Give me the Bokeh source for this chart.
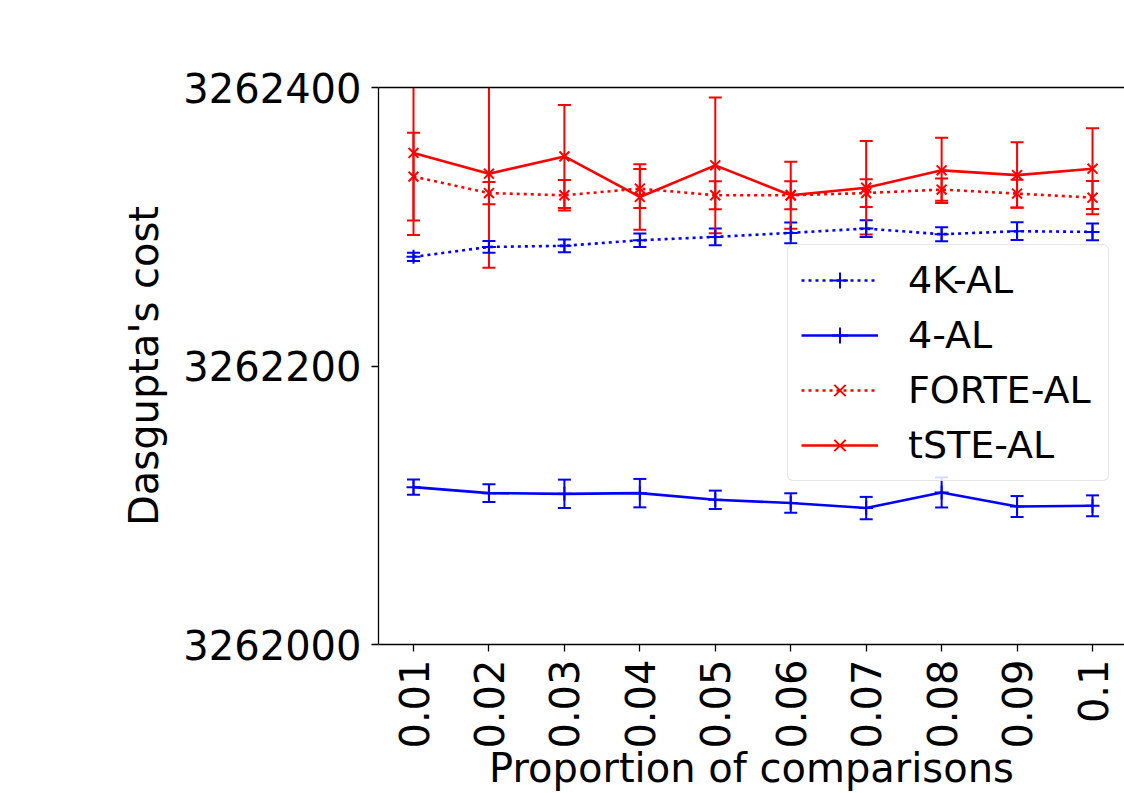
import math
from bokeh.plotting import figure
from bokeh.models import (ColumnDataSource, Whisker, TeeHead, FixedTicker, Legend,
                          LegendItem, LinearAxis, Range1d)
from bokeh.embed import file_html
from bokeh.resources import INLINE

# ---- data ----
proportions = [0.01, 0.02, 0.03, 0.04, 0.05, 0.06, 0.07, 0.08, 0.09, 0.1]
tick_labels = ["0.01", "0.02", "0.03", "0.04", "0.05", "0.06", "0.07", "0.08", "0.09", "0.1"]
base = 3262000

k4_al_mean = [278.4, 285.5, 286.3, 290.3, 292.7, 295.6, 298.7, 294.6, 296.8, 296.3]
k4_al_err = [3.0, 4.2, 4.6, 4.8, 6.0, 7.4, 6.0, 5.0, 6.4, 6.0]

al4_mean = [113.0, 108.7, 108.2, 108.7, 103.9, 101.6, 98.0, 109.2, 99.1, 99.6]
al4_err = [5.5, 6.3, 10.2, 10.2, 6.6, 7.0, 8.0, 10.8, 7.5, 7.5]

forte_mean = [336.0, 324.2, 322.6, 327.4, 322.6, 322.6, 324.2, 326.7, 323.8, 320.9]
forte_err = [31.5, 8.0, 11.0, 14.0, 10.0, 10.0, 10.0, 8.0, 10.0, 12.0]

tste_mean = [353.0, 338.1, 350.5, 321.4, 344.1, 322.6, 328.0, 340.5, 337.1, 341.7]
tste_err = [59.0, 67.6, 37.0, 23.5, 48.7, 24.0, 33.5, 23.5, 23.5, 29.0]

y_ticks = [3262000, 3262200, 3262400]

x_title = "Proportion of comparisons"
y_title = "Dasgupta's cost"

FONT = "DejaVu Sans"

p = figure(width=1124, height=793, output_backend="svg", toolbar_location=None,
           x_range=Range1d(0.00536, 0.10424), y_range=Range1d(3262000, 3262400),
           min_border_left=378, min_border_top=87, min_border_right=0, min_border_bottom=148)
p.outline_line_color = None
p.grid.visible = False
p.background_fill_color = "white"
p.border_fill_color = "white"

def src(mean, err):
    m = [base + v for v in mean]
    return ColumnDataSource(dict(x=proportions, y=m,
                                 lo=[a - e for a, e in zip(m, err)],
                                 hi=[a + e for a, e in zip(m, err)]))

series = [
    ("4K-AL", k4_al_mean, k4_al_err, "blue", "3 4", "cross"),
    ("4-AL", al4_mean, al4_err, "blue", "solid", "cross"),
    ("FORTE-AL", forte_mean, forte_err, "red", "3 4", "x"),
    ("tSTE-AL", tste_mean, tste_err, "red", "solid", "x"),
]

items = []
for name, mean, err, color, dash, marker in series:
    s = src(mean, err)
    w = Whisker(source=s, base="x", lower="lo", upper="hi", line_color=color, line_width=2,
                upper_head=TeeHead(size=13, line_color=color, line_width=2),
                lower_head=TeeHead(size=13, line_color=color, line_width=2))
    p.add_layout(w)
    ln = p.line("x", "y", source=s, line_color=color, line_width=2.6, line_dash=dash)
    sc = p.scatter("x", "y", source=s, marker=marker, size=14, line_color=color,
                   line_width=2, fill_color=None)
    items.append(LegendItem(label=name, renderers=[ln, sc]))

# axes styling
for ax in [p.xaxis[0], p.yaxis[0]]:
    ax.axis_line_color = "black"
    ax.axis_line_width = 1.3
    ax.major_tick_line_color = "black"
    ax.major_tick_line_width = 1.3
    ax.major_tick_out = 7
    ax.major_tick_in = 0
    ax.minor_tick_line_color = None
    ax.major_label_text_font = FONT
    ax.major_label_text_font_size = "40px"
    ax.major_label_text_color = "black"
    ax.axis_label_text_font = FONT
    ax.axis_label_text_font_size = "40px"
    ax.axis_label_text_font_style = "normal"
    ax.axis_label_text_color = "black"

p.yaxis.ticker = FixedTicker(ticks=y_ticks)
p.yaxis.major_label_overrides = {t: str(t) for t in y_ticks}
p.yaxis.major_label_standoff = 10
p.yaxis.axis_label = y_title
p.yaxis.axis_label_standoff = 13

p.xaxis.ticker = FixedTicker(ticks=proportions)
p.xaxis.major_label_overrides = {v: l for v, l in zip(proportions, tick_labels)}
p.xaxis.major_label_orientation = math.pi / 2
p.xaxis.major_label_standoff = 8
p.xaxis.axis_label = x_title
p.xaxis.axis_label_standoff = -7

top = LinearAxis(ticker=FixedTicker(ticks=[]), major_label_text_font_size="0px",
                 axis_line_color="black", axis_line_width=1.3,
                 major_tick_line_color=None, minor_tick_line_color=None)
p.add_layout(top, "above")

legend = Legend(items=items, location="top_right", orientation="vertical")
legend.label_text_font = FONT
legend.label_text_font_size = "38px"
legend.label_text_color = "black"
legend.glyph_width = 77
legend.glyph_height = 40
legend.label_standoff = 30
legend.label_height = 40
legend.label_width = 187
legend.spacing = 11
legend.padding = 13
legend.margin = 0
legend.border_line_color = "#cccccc"
legend.border_line_width = 1.5
legend.background_fill_color = "white"
legend.background_fill_alpha = 0.85
if "border_radius" in legend.properties():
    legend.border_radius = 6
p.add_layout(legend)
legend.location = (409, 163)

open("out.html", "w").write(file_html(p, INLINE))
